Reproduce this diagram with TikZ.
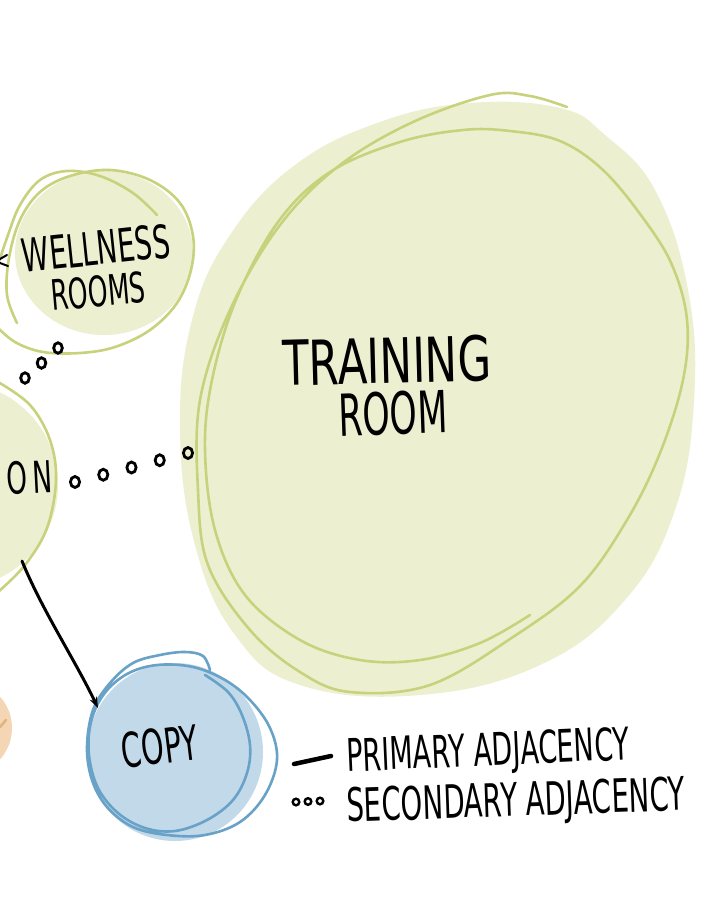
\documentclass[tikz,border=0pt]{standalone}
\usepackage{fontspec}
\newfontfamily\handfont{DejaVu Sans}[FakeStretch=0.6]
\newfontfamily\handwide{DejaVu Sans}[FakeStretch=0.7]
\usetikzlibrary{calc,arrows.meta}

\definecolor{sagefill}{HTML}{EDF0D0}
\definecolor{sageline}{HTML}{C8D27C}
\definecolor{skyfill}{HTML}{C2D9EA}
\definecolor{skyline}{HTML}{68A2C7}
\definecolor{peachfill}{HTML}{F4D6B4}
\definecolor{peachline}{HTML}{E2B47E}

\tikzset{
  handtext/.style={font=\handfont\fontsize{#1}{#1}\selectfont, inner sep=0pt, text=black, text depth=0pt},
  widetext/.style={handtext=#1, font=\handwide\fontsize{#1}{#1}\selectfont},
  rim/.style={line width=2.6pt, line cap=round, line join=round},
  dotring/.style={draw=black, line width=2.8pt},
  primary/.style={draw=black, line width=3pt, line cap=round, -{Stealth[length=11pt, width=8pt]}}
}

\begin{document}
\begin{tikzpicture}[x=1pt, y=-1pt]
  \useasboundingbox (0,0) rectangle (718,898);
  \clip (0,0) rectangle (718,898);
  \fill[white] (0,0) rectangle (718,898);

  % Bubble fills
  \fill[sagefill] plot[smooth cycle, tension=0.7] coordinates {(470,103) (560,108) (605,135) (655,190) (688,290) (694,400) (675,510) (625,600) (540,665) (420,695) (300,685) (235,635) (195,545) (180,430) (192,320) (230,235) (295,165) (380,122)};
  \fill[sagefill] (104,253) ellipse (89 and 82);
  \fill[sagefill] (-45,485) circle (103);
  \fill[peachfill] (-35,728) circle (47);
  \fill[skyfill] (175,752) ellipse (88 and 89);

  % Bubble rims
  \draw[rim, sageline] plot[smooth, tension=0.6] coordinates {(567,107) (530,96) (490,95) (413,122) (340,165) (280,225) (230,310) (200,400) (198,490) (208,565) (250,630) (300,672) (350,692) (430,685) (513,637) (580,586) (627,520) (660,453) (683,380) (687,320) (672,265) (643,218) (603,170) (560,141) (510,131) (463,130) (400,142) (330,172) (278,222) (236,300) (212,380) (205,450) (215,530) (245,595) (300,640) (360,660) (420,660) (480,643) (530,615)};
  \draw[rim, sageline] plot[smooth, tension=0.6] coordinates {(17,323) (7,295) (9,258) (20,220) (40,192) (70,176) (110,170) (150,180) (180,203) (193,236) (191,270) (177,303) (150,330) (115,347) (80,353) (43,352) (15,342) (-5,325)};
  \draw[rim, sageline] plot[smooth, tension=0.6] coordinates {(157,215) (133,193) (100,176) (67,171) (40,180) (20,205) (8,235) (-2,265)};
  \draw[rim, sageline] plot[smooth, tension=0.6] coordinates {(-2,382) (30,405) (50,440) (56,480) (47,528) (25,565) (-2,592)};
  \draw[rim, peachline] (0,727) -- (6,720);
  \draw[rim, skyline] plot[smooth, tension=0.6] coordinates {(210,670) (203,656) (185,652) (160,655) (133,663) (110,683) (93,710) (87,747) (92,780) (107,807) (133,827) (167,835) (205,835) (240,822) (265,795) (277,760) (270,728) (250,700) (225,680) (193,667) (157,665) (127,674) (104,694) (91,722) (89,755) (98,788) (118,813) (145,828) (175,831) (207,820) (233,800) (247,773) (250,745) (242,715) (228,692) (205,675)};

  % Cut-off marks at the left edge
  \draw[black, line width=2pt, line cap=round] (0,259) -- (7,255);
  \draw[black, line width=2pt, line cap=round] (0,263) -- (8,266);

  % Labels
  \node[widetext=62, rotate=1.5] (training) at (387,360) {TRAINING};
  \node[handtext=58, rotate=2] (room) at (393,413) {ROOM};
  \node[handtext=46, rotate=6] (wellness) at (96,248) {WELLNESS};
  \node[handtext=42, rotate=5] (rooms) at (98,291) {ROOMS};
  \node[handtext=44, rotate=3, anchor=east] (on) at (53,476) {O\kern6pt N};
  \node[handtext=48, rotate=7] (copy) at (160,746) {COPY};

  % Coordinates
  \coordinate (on-e) at (75,482);
  \coordinate (tr-w) at (188,453);
  \coordinate (on-ne) at (25,378);
  \coordinate (wl-s) at (58,348);
  \coordinate (on-s) at (22,561);
  \coordinate (copy-nw) at (98,708);

  % Adjacencies
  \draw[primary] (on-s) .. controls (42,610) and (75,660) .. (copy-nw);
  \foreach \t in {0,0.25,0.5,0.75,1}
    \draw[dotring] ($(on-e)!\t!(tr-w)$) ellipse (4.6 and 5.5);
  \foreach \t in {0,0.5,1}
    \draw[dotring] ($(on-ne)!\t!(wl-s)$) ellipse (4.3 and 5.3);

  % Key
  \coordinate (key1a) at (294,764);
  \coordinate (key1b) at (331,756);
  \coordinate (key2a) at (296,802);
  \coordinate (key2b) at (320,801);
  \draw[black, line width=4.5pt, line cap=round] (key1a) -- (key1b);
  \foreach \t in {0,0.5,1}
    \draw[dotring, line width=2.4pt] ($(key2a)!\t!(key2b)$) circle (3.3);
  \node[handtext=45, rotate=2.5] (primkey) at (488,749) {PRIMARY ADJACENCY};
  \node[handtext=46, rotate=2] (seckey) at (516,799) {SECONDARY ADJACENCY};
\end{tikzpicture}
\end{document}
